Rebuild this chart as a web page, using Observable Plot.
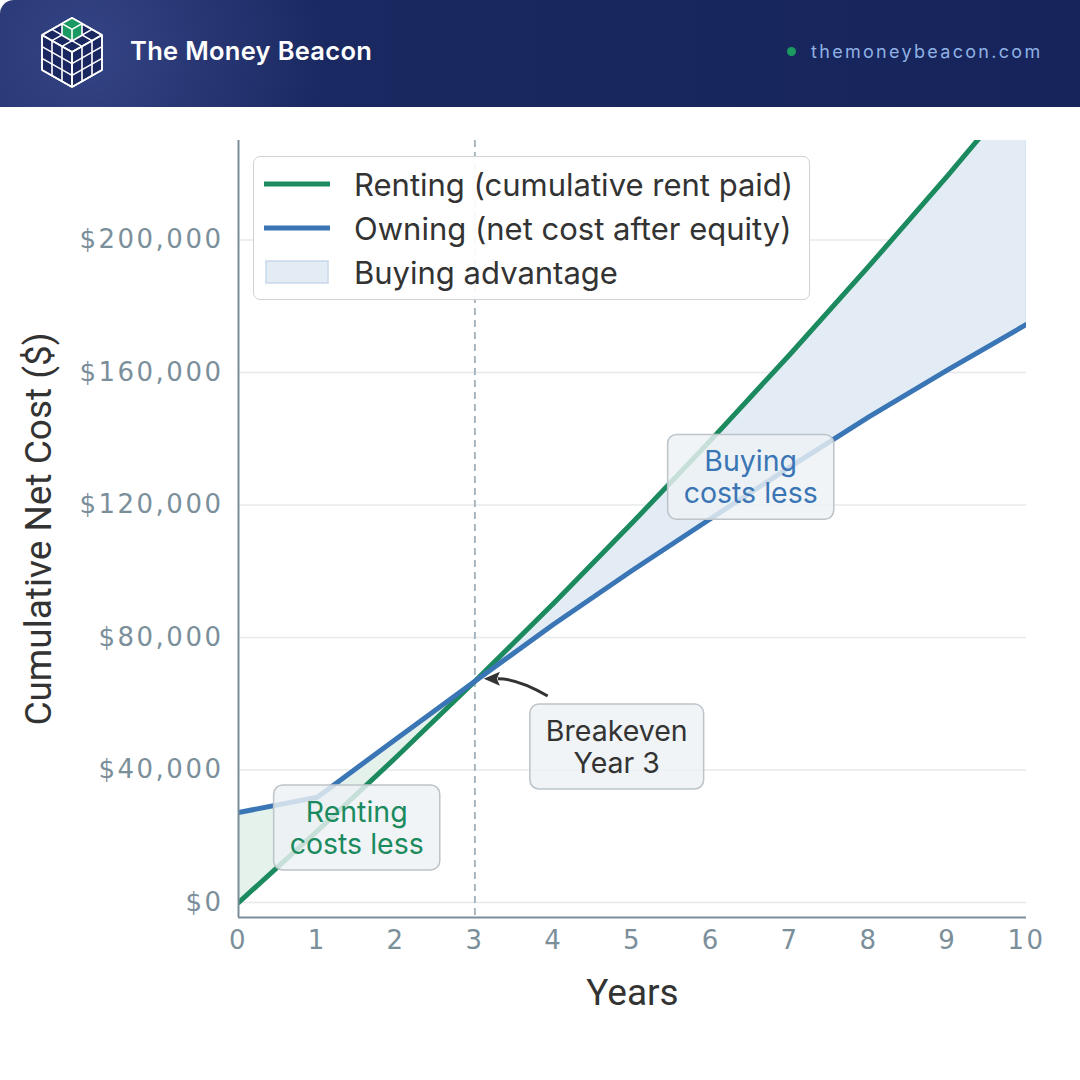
<!DOCTYPE html>
<html>
<head>
<meta charset="utf-8">
<script src="https://cdn.jsdelivr.net/npm/d3@7"></script>
<script src="https://cdn.jsdelivr.net/npm/@observablehq/plot@0.6"></script>
<style>
html,body{margin:0;padding:0;background:#fff;}
#page{position:relative;width:1080px;height:1080px;overflow:hidden;background:#fff;font-family:Inter,"Noto Sans",sans-serif;}
#header{position:absolute;left:0;top:0;width:1080px;height:107px;border-top-left-radius:14px;
  background:radial-gradient(circle at 85px 50px, rgba(72,88,158,0.55), rgba(72,88,158,0) 240px), linear-gradient(90deg,#1d2b65,#16245b);}
#logo{position:absolute;left:36px;top:14px;}
#brand{position:absolute;left:130px;top:34px;font-family:Inter,sans-serif;font-weight:600;font-size:25.5px;color:#fff;letter-spacing:0.3px;line-height:34px;}
#site{position:absolute;left:787px;top:40px;font-family:Inter,sans-serif;font-size:18px;color:#8fb1e3;letter-spacing:2.3px;line-height:24px;}
#site .dot{display:inline-block;width:9px;height:9px;border-radius:50%;background:#1b9a60;margin-right:15px;vertical-align:2px;}
#chart{position:absolute;left:0;top:107px;}
#chart g[aria-label="y-axis tick label"] text, #chart g[aria-label="x-axis tick label"] text{letter-spacing:2.5px;}
#legend{position:absolute;left:253px;top:156px;width:557px;height:144px;box-sizing:border-box;border:1.5px solid #cfd3d7;border-radius:7px;background:rgba(255,255,255,0.92);}
#legend .item{position:absolute;left:0;height:40px;display:flex;align-items:center;font-family:Inter,sans-serif;font-size:31px;color:#333;}
#legend .sw{position:absolute;left:10px;}
#legend .lab{position:absolute;left:100px;white-space:nowrap;}
</style>
</head>
<body>
<div id="page">
  <div id="header">
    <svg id="logo" width="72" height="80" viewBox="36 14 72 80"></svg>
    <div id="brand">The Money Beacon</div>
    <div id="site"><span class="dot"></span>themoneybeacon.com</div>
  </div>
  <div id="chart"></div>
  <div id="legend"></div>
</div>
<script>
// ---------- data ----------
const years = [0, 1, 2, 3, 4, 5, 6, 7, 8, 9, 10];
const rentingCost = [0, 21600, 43850, 66800, 90370, 114680, 139720, 165510, 192070, 219430, 247620];
const owningCost = [27200, 31800, 49400, 66800, 84000, 100300, 116000, 131500, 146600, 160800, 174500];
const yTicks = [0, 40000, 80000, 120000, 160000, 200000];
const xTicks = [0, 1, 2, 3, 4, 5, 6, 7, 8, 9, 10];
const breakevenYear = 3;
const seriesNames = ["Renting (cumulative rent paid)", "Owning (net cost after equity)", "Buying advantage"];
const annotationText = ["Renting\ncosts less", "Breakeven\nYear 3", "Buying\ncosts less"];
const annotationX = [1.5, 4.8, 6.5];
const annotationY = [22600, 47000, 128400];
const arrowFrom = {x: 3.93, y: 62200};
const arrowTo = {x: 3.12, y: 67400};

// ---------- colours ----------
const GREEN = "#1b8a5e", BLUE = "#3a75b5", AXIS = "#7b8d99", TICK = "#7b8f9b";
const annColors = [GREEN, "#333333", BLUE];

// ---------- logo (decoration) ----------
(function drawLogo(){
  const svg = d3.select("#logo");
  const T=[72,18], R=[102,35], C=[72,52], L=[42,35], BL=[42,70], B=[72,87], BR=[102,70];
  const lerp=(a,b,t)=>[a[0]+(b[0]-a[0])*t, a[1]+(b[1]-a[1])*t];
  const poly=(pts)=>"M"+pts.map(p=>p.join(",")).join("L")+"Z";
  const g = svg.append("g").attr("stroke","#ffffff").attr("stroke-width",1.6).attr("stroke-linejoin","round");
  g.append("path").attr("d",poly([T,R,BR,B,BL,L])).attr("fill","#1b2760");
  const line=(a,b)=>g.append("line").attr("x1",a[0]).attr("y1",a[1]).attr("x2",b[0]).attr("y2",b[1]);
  for (const t of [0,1/3,2/3,1]) {
    line(lerp(T,L,t), lerp(R,C,t));
    line(lerp(T,R,t), lerp(L,C,t));
    line(lerp(L,C,t), lerp(BL,B,t));
    line(lerp(L,BL,t), lerp(C,B,t));
    line(lerp(C,R,t), lerp(B,BR,t));
    line(lerp(C,B,t), lerp(R,BR,t));
  }
  const a=[82,23.67], m=[72,29.33], b=[62,23.67];
  g.append("path").attr("d",poly([[72,18],a,[82,35.3],[72,41],[62,35.3],b])).attr("fill","#1a9a62");
  line(b,m); line(m,a); line(m,[72,41]);
})();

// ---------- chart ----------
const rows = years.map((x, i) => ({year: x, rent: rentingCost[i], own: owningCost[i]}));
const before = rows.filter(d => d.year <= breakevenYear);
const after = rows.filter(d => d.year >= breakevenYear);
const annotations = annotationText.map((t, i) => ({text: t, x: annotationX[i], y: annotationY[i], color: annColors[i]}));

// curved arrow with a filled head, positioned through the plot's scales
function curvedArrow(index, scales, values, dimensions, context) {
  const ns = "http://www.w3.org/2000/svg";
  const g = document.createElementNS(ns, "g");
  const x0 = scales.x(arrowFrom.x), y0 = scales.y(arrowFrom.y);
  const x1 = scales.x(arrowTo.x), y1 = scales.y(arrowTo.y);
  const mx = (x0 + x1) / 2, my = (y0 + y1) / 2;
  const dx = x1 - x0, dy = y1 - y0, len = Math.hypot(dx, dy);
  const nx = dy / len, ny = -dx / len;
  const bow = -9;
  const cx = mx + nx * bow, cy = my + ny * bow;
  let tx = x1 - cx, ty = y1 - cy; const tl = Math.hypot(tx, ty); tx /= tl; ty /= tl;
  const hl = 16, hw = 7;
  const bx = x1 - tx * hl, by = y1 - ty * hl;
  const path = document.createElementNS(ns, "path");
  path.setAttribute("d", `M${x0},${y0}Q${cx},${cy} ${bx + tx * 2},${by + ty * 2}`);
  path.setAttribute("fill", "none");
  path.setAttribute("stroke", "#333");
  path.setAttribute("stroke-width", 3);
  g.appendChild(path);
  const head = document.createElementNS(ns, "path");
  head.setAttribute("d", `M${x1},${y1}L${bx - ty * hw},${by + tx * hw}L${bx + tx * 3},${by + ty * 3}L${bx + ty * hw},${by - tx * hw}Z`);
  head.setAttribute("fill", "#333");
  g.appendChild(head);
  return g;
}

const fmt = d3.format(",");
const chart = Plot.plot({
  width: 1080,
  height: 973,
  marginLeft: 238,
  marginRight: 54,
  marginTop: 33,
  marginBottom: 163,
  style: {fontFamily: "Inter, sans-serif", background: "transparent", overflow: "visible"},
  x: {domain: [0, 10]},
  y: {domain: [-4500, 230000]},
  marks: [
    Plot.ruleY(yTicks, {stroke: "#e6e8eb", strokeWidth: 1.5}),
    Plot.areaY(before, {x: "year", y1: "own", y2: "rent", fill: "#e4f1eb", fillOpacity: 0.95}),
    Plot.areaY(after, {x: "year", y1: "own", y2: "rent", fill: "#e3ecf5", stroke: "#cfdcea", strokeWidth: 1, clip: true}),
    Plot.ruleX([breakevenYear], {stroke: "#a9b6bf", strokeWidth: 2, strokeDasharray: "7,5"}),
    Plot.line(rows, {x: "year", y: "rent", stroke: GREEN, strokeWidth: 5, clip: true}),
    Plot.line(rows, {x: "year", y: "own", stroke: BLUE, strokeWidth: 5, clip: true}),
    Plot.ruleX([0], {stroke: AXIS, strokeWidth: 2}),
    Plot.ruleY([-4500], {stroke: AXIS, strokeWidth: 2}),
    Plot.axisY(yTicks, {tickSize: 0, tickPadding: 15, tickFormat: d => "$" + fmt(d), fill: TICK, fontSize: 26, fontFamily: "DejaVu Sans", label: null}),
    Plot.axisX(xTicks, {tickSize: 0, tickPadding: 13, tickFormat: d => String(d), fill: TICK, fontSize: 26, fontFamily: "DejaVu Sans", label: null}),
    Plot.text(["Cumulative Net Cost ($)"], {text: d => d, frameAnchor: "left", dx: -199, rotate: -90, textAnchor: "middle", lineAnchor: "middle", fontSize: 37, fontFamily: "Roboto", fill: "#333"}),
    Plot.text(["Years"], {text: d => d, frameAnchor: "bottom", dy: 76, textAnchor: "middle", lineAnchor: "middle", fontSize: 37, fontFamily: "Roboto", fill: "#333"}),
    Plot.dot([arrowFrom], {x: "x", y: "y", r: 0, render: curvedArrow}),
    Plot.text(annotations, {x: "x", y: "y", text: "text", fill: "color", fontSize: 28.5, lineHeight: 1.12, textAnchor: "middle", lineAnchor: "middle", className: "annot"})
  ]
});
document.getElementById("chart").appendChild(chart);

// background boxes for annotations (sized from the rendered text)
d3.select(chart).selectAll("g.annot text").each(function() {
  const bb = this.getBBox();
  const padX = 16, padY = 9;
  const r = document.createElementNS("http://www.w3.org/2000/svg", "rect");
  r.setAttribute("x", bb.x - padX);
  r.setAttribute("y", bb.y - padY);
  r.setAttribute("width", bb.width + 2 * padX);
  r.setAttribute("height", bb.height + 2 * padY);
  r.setAttribute("rx", 9);
  r.setAttribute("fill", "#edf1f4");
  r.setAttribute("fill-opacity", 0.82);
  r.setAttribute("stroke", "#bcc3c9");
  r.setAttribute("stroke-width", 1.5);
  const tr = this.getAttribute("transform");
  if (tr) r.setAttribute("transform", tr);
  this.parentNode.insertBefore(r, this);
});

// ---------- legend ----------
const legend = d3.select("#legend");
const swatches = [
  {type: "line", color: GREEN},
  {type: "line", color: BLUE},
  {type: "rect", color: "#e3ecf5", stroke: "#c9d9ea"}
];
seriesNames.forEach((name, i) => {
  const item = legend.append("div").attr("class", "item").style("top", (7 + i * 44) + "px").style("width", "100%");
  const sw = item.append("svg").attr("class", "sw").attr("width", 70).attr("height", 40);
  if (swatches[i].type === "line") {
    sw.append("line").attr("x1", 0).attr("x2", 66).attr("y1", 20).attr("y2", 20).attr("stroke", swatches[i].color).attr("stroke-width", 5);
  } else {
    sw.append("rect").attr("x", 2).attr("y", 9).attr("width", 62).attr("height", 22).attr("fill", swatches[i].color).attr("stroke", swatches[i].stroke).attr("stroke-width", 1.5);
  }
  item.append("span").attr("class", "lab").text(name);
});
</script>
</body>
</html>
